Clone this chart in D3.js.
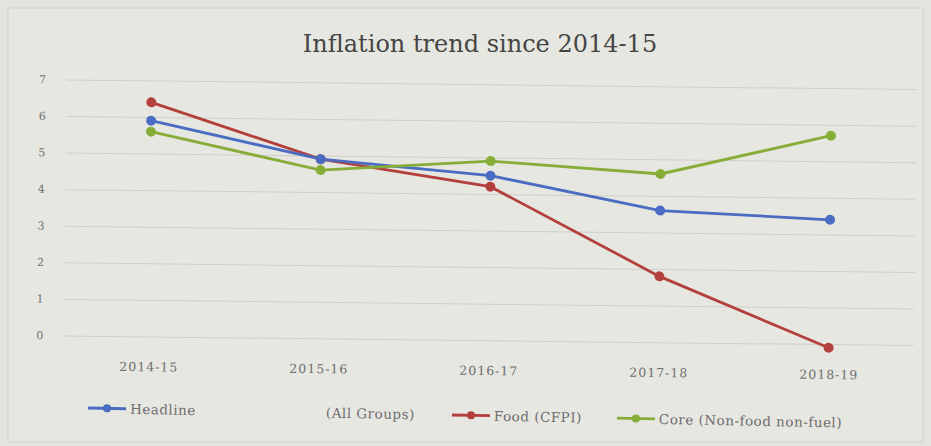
<!DOCTYPE html>
<html>
<head>
<meta charset="utf-8">
<script src="https://cdn.jsdelivr.net/npm/d3@7"></script>
<style>
  body { margin: 0; background: #e4e4df; }
  svg { display: block; }
  text { font-family: "DejaVu Serif", "Liberation Serif", serif; fill: #6e6e6e; }
  .grid line { stroke: #cfcfca; stroke-width: 1; }
  .title { font-size: 24px; fill: #454545; }
</style>
</head>
<body>
<div id="chart"></div>
<script>
// chart data
const years = ["2014-15", "2015-16", "2016-17", "2017-18", "2018-19"];
const headline = [5.9, 4.9, 4.5, 3.6, 3.4];
const food = [6.4, 4.9, 4.2, 1.8, -0.1];
const core = [5.6, 4.6, 4.9, 4.6, 5.7];
const yTicks = [0, 1, 2, 3, 4, 5, 6, 7];

const series = [
    {name: "Food (CFPI)", values: food, color: "#b4403e"},
    {name: "Headline", values: headline, color: "#4a6cc2"},
    {name: "Core (Non-food non-fuel)", values: core, color: "#86ad38"}
];

let margin = {top: 84, left: 65, right: 16, bottom: 104},
    width = 931,
    height = 446,
    plotW = width - margin.left - margin.right,
    plotH = height - margin.top - margin.bottom;

let svg = d3.select("#chart").append("svg")
    .attr("width", width)
    .attr("height", height);

// paper frame
svg.append("rect")
    .attr("x", 8).attr("y", 8)
    .attr("width", width - 16).attr("height", height - 12)
    .attr("fill", "#e7e7e2")
    .attr("stroke", "#d2d2cc");

svg.append("text")
    .classed("title", true)
    .attr("x", 480)
    .attr("y", 52)
    .attr("text-anchor", "middle")
    .text("Inflation trend since 2014-15");

// the photo is slightly tilted, so tilt the plot a little too
let g = svg.append("g")
    .attr("transform", `rotate(0.65 ${width / 2} ${height / 2}) translate(${margin.left},${margin.top})`);

let x = d3.scalePoint().domain(years).range([0, plotW]).padding(0.5),
    y = d3.scaleLinear().domain([0, 7]).range([plotH - 2, 0]);

// horizontal grid
g.append("g")
    .classed("grid", true)
    .call(d3.axisLeft(y).tickValues(yTicks).tickSize(-plotW).tickFormat(""))
    .call(a => a.select(".domain").remove());

// y labels
g.append("g")
    .selectAll("text")
    .data(yTicks)
    .join("text")
    .attr("x", -24)
    .attr("y", d => y(d) + 4)
    .attr("text-anchor", "middle")
    .attr("font-size", "11px")
    .attr("fill", "#808080")
    .text(d => d);

// x labels
g.append("g")
    .attr("transform", `translate(0,${plotH + 21})`)
    .call(d3.axisBottom(x).tickSize(0))
    .call(a => a.select(".domain").remove())
    .call(a => a.selectAll("text")
        .attr("font-family", "DejaVu Serif, serif")
        .attr("font-size", "12.5px")
        .attr("letter-spacing", "1px")
        .attr("fill", "#6e6e6e"));

let line = d3.line()
    .x((d, i) => x(years[i]))
    .y(d => y(d));

series.forEach(s => {
    g.append("path")
        .datum(s.values)
        .attr("fill", "none")
        .attr("stroke", s.color)
        .attr("stroke-width", 2.8)
        .attr("d", line);
    g.selectAll(null)
        .data(s.values)
        .join("circle")
        .attr("cx", (d, i) => x(years[i]))
        .attr("cy", d => y(d))
        .attr("r", 5)
        .attr("fill", s.color);
});

// legend (tilted a bit more, like the photo)
let legend = svg.append("g").attr("transform", "translate(0,408) rotate(1.1 88 0)");
let legendItems = [
    {label: "Headline", color: "#4a6cc2", x: 88},
    {label: "Food (CFPI)", color: "#b4403e", x: 452},
    {label: "Core (Non-food non-fuel)", color: "#86ad38", x: 617}
];
legendItems.forEach(d => {
    legend.append("line")
        .attr("x1", d.x).attr("x2", d.x + 38)
        .attr("y1", 0).attr("y2", 0)
        .attr("stroke", d.color).attr("stroke-width", 2.8);
    legend.append("circle")
        .attr("cx", d.x + 19).attr("cy", 0).attr("r", 4)
        .attr("fill", d.color);
    legend.append("text")
        .attr("x", d.x + 42).attr("y", 5)
        .attr("font-size", "13.5px")
        .attr("letter-spacing", "0.5px")
        .text(d.label);
});
legend.append("text")
    .attr("x", 326).attr("y", 5)
    .attr("font-size", "13.5px")
    .attr("letter-spacing", "0.5px")
    .text("(All Groups)");
</script>
</body>
</html>
